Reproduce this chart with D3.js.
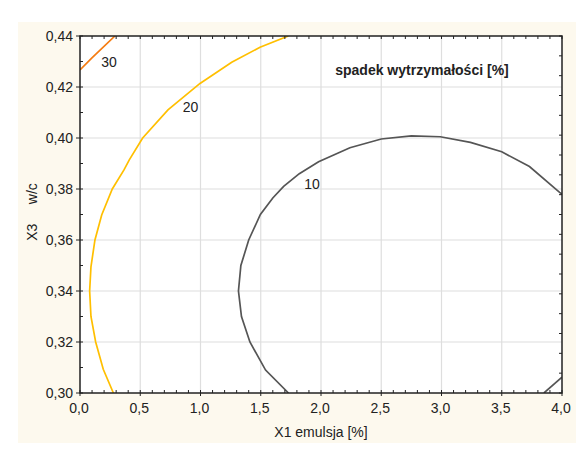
<!DOCTYPE html>
<html><head><meta charset="utf-8">
<script src="https://cdn.jsdelivr.net/npm/d3@7"></script>
<style>
html,body{margin:0;padding:0;background:#fff;}
svg text{font-family:"Liberation Sans",Arial,sans-serif;}
</style></head>
<body><svg id="c" width="587" height="458"></svg>
<script>
// ---- data ----
const xTicks = [0, 0.5, 1.0, 1.5, 2.0, 2.5, 3.0, 3.5, 4.0];
const xTickLabels = ["0,0","0,5","1,0","1,5","2,0","2,5","3,0","3,5","4,0"];
const yTicks = [0.30, 0.32, 0.34, 0.36, 0.38, 0.40, 0.42, 0.44];
const yTickLabels = ["0,30","0,32","0,34","0,36","0,38","0,40","0,42","0,44"];
const contourLevels = ["10", "20", "30"];
const contour10a = [[1.73,0.300],[1.54,0.309],[1.41,0.320],[1.34,0.330],[1.315,0.340],[1.335,0.350],[1.40,0.360],[1.497,0.370],[1.60,0.3765],[1.69,0.381],[1.82,0.386],[1.98,0.3907],[2.24,0.3962],[2.50,0.3996],[2.75,0.4008],[2.99,0.4005],[3.24,0.3983],[3.50,0.3946],[3.73,0.3888],[3.98,0.3787],[4.0,0.378]];
const contour10b = [[3.85,0.300],[4.0,0.3062]];
const contour20 = [[0.277,0.300],[0.193,0.3093],[0.130,0.320],[0.091,0.330],[0.08,0.340],[0.091,0.3495],[0.124,0.360],[0.18,0.3698],[0.268,0.380],[0.365,0.3875],[0.409,0.3914],[0.52,0.400],[0.73,0.411],[0.996,0.4214],[1.259,0.4297],[1.494,0.4356],[1.729,0.440]];
const contour30 = [[0,0.4267],[0.097,0.4313],[0.29,0.440]];
const labelPos = [[1.925,0.380],[0.917,0.4102],[0.24,0.4278]];

// ---- layout ----
const svg = d3.select("#c");
const L = 80, R = 562, T = 36, B = 393;
const FS = 14;
const x = d3.scaleLinear().domain([0,4]).range([L,R]);
const y = d3.scaleLinear().domain([0.30,0.44]).range([B,T]);

svg.append("rect").attr("x",18).attr("y",22).attr("width",558).attr("height",421).attr("fill","#fdf9ee");
svg.append("rect").attr("x",L).attr("y",T).attr("width",R-L).attr("height",B-T).attr("fill","#fff");

// grid
const g = svg.append("g");
g.selectAll(".gx").data(xTicks.slice(1,-1)).join("line")
  .attr("x1",d=>x(d)).attr("x2",d=>x(d)).attr("y1",T).attr("y2",B)
  .attr("stroke","#dedede").attr("stroke-width",1.2);
g.selectAll(".gy").data(yTicks.slice(1,-1)).join("line")
  .attr("y1",d=>y(d)).attr("y2",d=>y(d)).attr("x1",L).attr("x2",R)
  .attr("stroke","#dedede").attr("stroke-width",1.2);

// contours
const line = d3.line().x(d=>x(d[0])).y(d=>y(d[1]));
svg.append("clipPath").attr("id","pc").append("rect").attr("x",L).attr("y",T).attr("width",R-L).attr("height",B-T);
const cg = svg.append("g").attr("clip-path","url(#pc)");
[[contour10a,"#555555"],[contour10b,"#555555"],[contour20,"#ffbf00"],[contour30,"#f57c12"]].forEach(([d,c])=>{
  cg.append("path").datum(d).attr("d",line).attr("fill","none").attr("stroke",c).attr("stroke-width",1.7);
});
svg.selectAll(".cl").data(contourLevels).join("text")
  .attr("x",(d,i)=>x(labelPos[i][0])).attr("y",(d,i)=>y(labelPos[i][1]))
  .attr("text-anchor","middle").attr("font-size",FS).attr("fill","#222").text(d=>d);

// axes
const ax = svg.append("g").attr("stroke","#222").attr("stroke-width",1);
d3.range(0,41).forEach(i=>{
  const v=i/10;
  ax.append("line").attr("x1",x(v)).attr("x2",x(v)).attr("y1",B).attr("y2",B-3);
  ax.append("line").attr("x1",x(v)).attr("x2",x(v)).attr("y1",T).attr("y2",T+3);
});
xTicks.forEach(v=>ax.append("line").attr("x1",x(v)).attr("x2",x(v)).attr("y1",B).attr("y2",B+3));
d3.range(0,15).forEach(i=>{
  const v=0.30+i*0.01;
  ax.append("line").attr("x1",L).attr("x2",L+3).attr("y1",y(v)).attr("y2",y(v));
});
yTicks.forEach(v=>ax.append("line").attr("x1",L-4).attr("x2",L).attr("y1",y(v)).attr("y2",y(v)));
d3.range(0,19).forEach(i=>{
  const v=0.30+i*0.14/18;
  ax.append("line").attr("x1",R-3).attr("x2",R).attr("y1",y(v)).attr("y2",y(v));
});
svg.append("rect").attr("x",L).attr("y",T).attr("width",R-L).attr("height",B-T)
  .attr("fill","none").attr("stroke","#222").attr("stroke-width",1.5);

// tick labels
svg.selectAll(".xt").data(xTicks).join("text")
  .attr("x",d=>x(d)-1).attr("y",B+20).attr("text-anchor","middle").attr("font-size",FS).attr("fill","#222")
  .text((d,i)=>xTickLabels[i]);
svg.selectAll(".yt").data(yTicks).join("text")
  .attr("x",L-7).attr("y",d=>y(d)+5).attr("text-anchor","end").attr("font-size",FS).attr("fill","#222")
  .text((d,i)=>yTickLabels[i]);

// axis titles
svg.append("text").attr("x",(L+R)/2).attr("y",437).attr("text-anchor","middle").attr("font-size",FS).attr("fill","#222").text("X1 emulsja [%]");
svg.append("text").attr("transform","translate(37,212) rotate(-90)").attr("text-anchor","middle")
  .attr("font-size",FS).attr("fill","#222").attr("xml:space","preserve").style("white-space","pre").text("X3     w/c");
svg.append("text").attr("x",422).attr("y",75).attr("text-anchor","middle").attr("font-size",FS)
  .attr("font-weight","bold").attr("fill","#222").text("spadek wytrzymałości [%]");
</script></body></html>
